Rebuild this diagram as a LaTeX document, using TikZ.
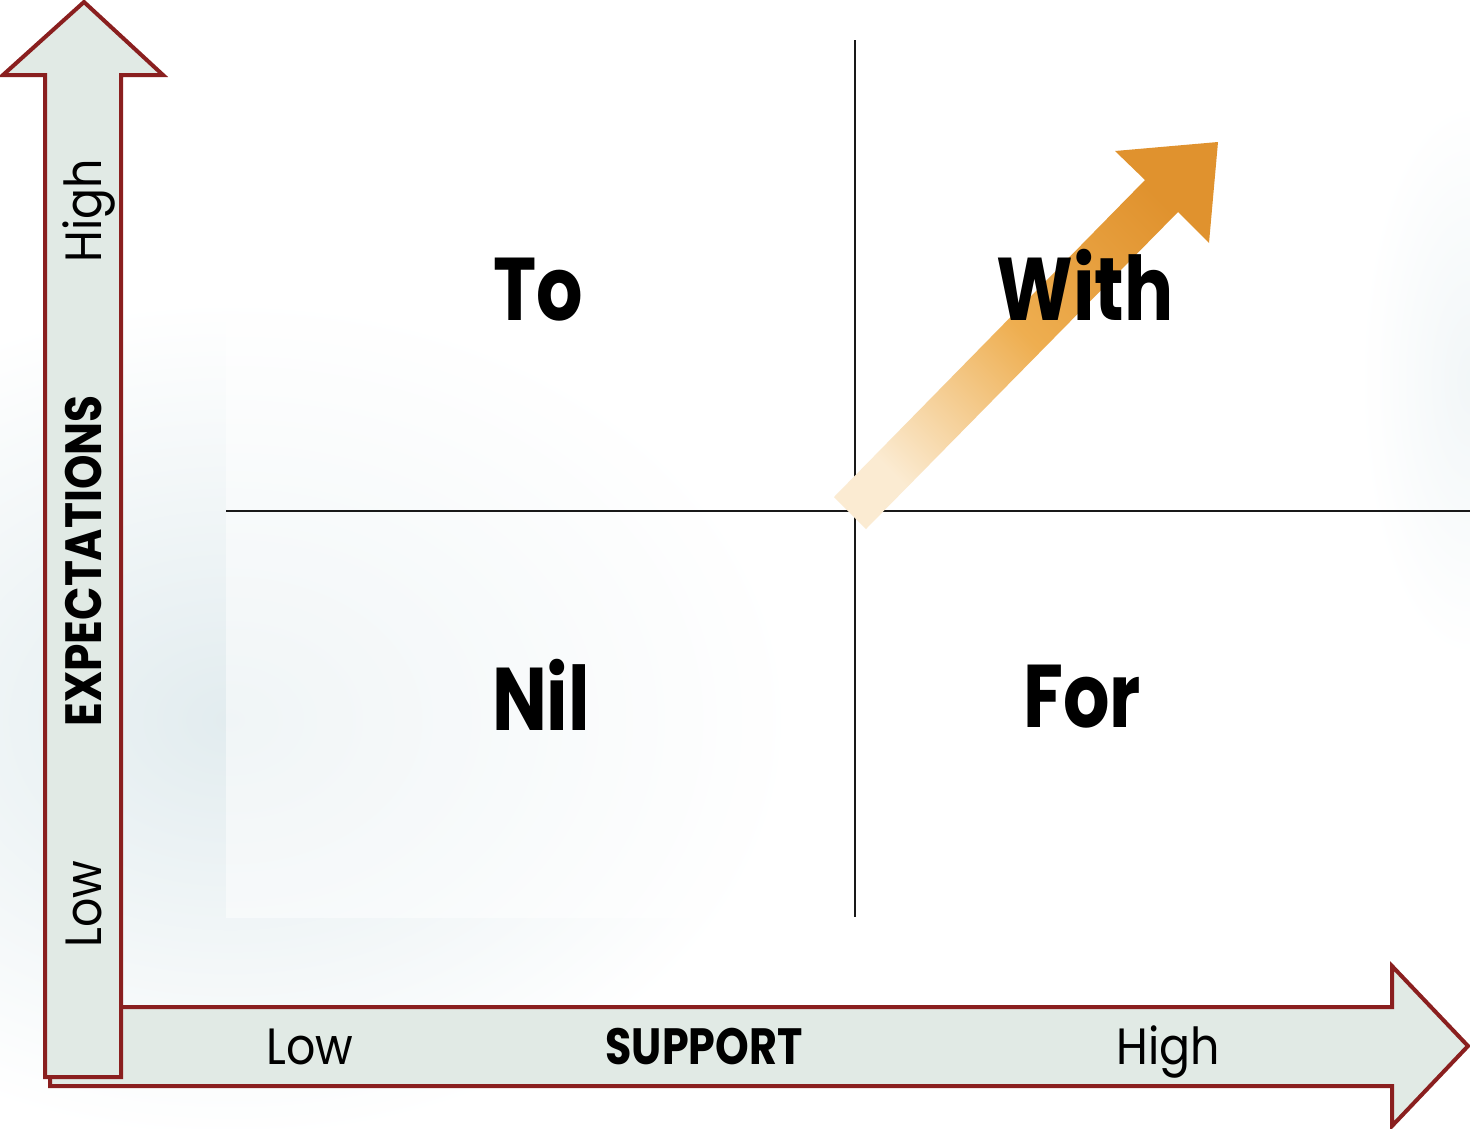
\documentclass[tikz,border=0pt]{standalone}
\usepackage{fontspec}
\setmainfont{Poppins}
\usetikzlibrary{calc}
\definecolor{axfill}{HTML}{E1EAE5}
\definecolor{axline}{HTML}{8A1F1F}
\definecolor{bgblue}{HTML}{E2ECEF}
\definecolor{orA}{HTML}{E0922E}
\definecolor{orB}{HTML}{EEAE50}
\definecolor{orC}{HTML}{FBEBD2}
\tikzset{
  axarrow/.style={fill=axfill, draw=axline, line width=4pt, line join=miter},
  quadline/.style={draw=black!90, line width=2.2pt},
  biglabel/.style={inner sep=0pt, anchor=base, font=\fontsize{89}{100}\selectfont\bfseries},
  axtitle/.style={inner sep=0pt, anchor=base, font=\fontsize{51}{60}\selectfont\bfseries},
  axtick/.style={inner sep=0pt, anchor=base, font=\fontsize{51}{60}\selectfont},
}
\begin{document}
\begin{tikzpicture}[x=1pt,y=-1pt]
\useasboundingbox (0,0) rectangle (1470,1128);
\fill[white] (0,0) rectangle (1470,1128);
% background wash
\shade[inner color=bgblue, outer color=white] (230,720) ellipse (560 and 420);
\shade[inner color=bgblue!45, outer color=white] (1470,380) ellipse (110 and 280);
\fill[white, opacity=0.5] (226,40) rectangle (1380,918);
% quadrant lines
\coordinate (vtop) at (855,40);
\coordinate (vbot) at (855,917);
\coordinate (hleft) at (226,511);
\coordinate (hright) at (1470,511);
\draw[quadline] (vtop) -- (vbot);
\draw[quadline] (hleft) -- (hright);
% orange diagonal arrow
\shade[top color=orA, bottom color=orC, middle color=orB, shading angle=-45]
  (1218,142) -- (1115,151) -- (1145,180) -- (834,497) -- (866,529) -- (1178,212) -- (1209,243) -- cycle;
% horizontal axis arrow
\draw[axarrow] (50,1007) -- (1392,1007) -- (1392,966) -- (1468,1046) -- (1392,1126) -- (1392,1086) -- (50,1086) -- cycle;
% vertical axis arrow
\draw[axarrow] (45,1077) -- (45,75) -- (3,75) -- (84,2) -- (163,75) -- (121,75) -- (121,1077) -- cycle;
% quadrant labels
\node[biglabel] (to) at (538,320) {\scalebox{0.82}[1]{To}};
\node[biglabel] (with) at (1085,320) {\scalebox{0.82}[1]{With}};
\node[biglabel] (nil) at (541,730) {\scalebox{0.82}[1]{Nil}};
\node[biglabel] (for) at (1082,727) {\scalebox{0.82}[1]{For}};
% axis labels
\node[axtitle] (support) at (704,1064) {\scalebox{0.84}[1]{SUPPORT}};
\node[axtick] (slow) at (310,1064) {\scalebox{0.9}[1]{Low}};
\node[axtick] (shigh) at (1168,1064) {\scalebox{0.9}[1]{High}};
\node[axtitle, rotate=90] (expect) at (101,561) {\scalebox{0.86}[1]{EXPECTATIONS}};
\node[axtick, rotate=90] (elow) at (101,904) {\scalebox{0.9}[1]{Low}};
\node[axtick, rotate=90] (ehigh) at (101,211) {\scalebox{0.9}[1]{High}};
\end{tikzpicture}
\end{document}
